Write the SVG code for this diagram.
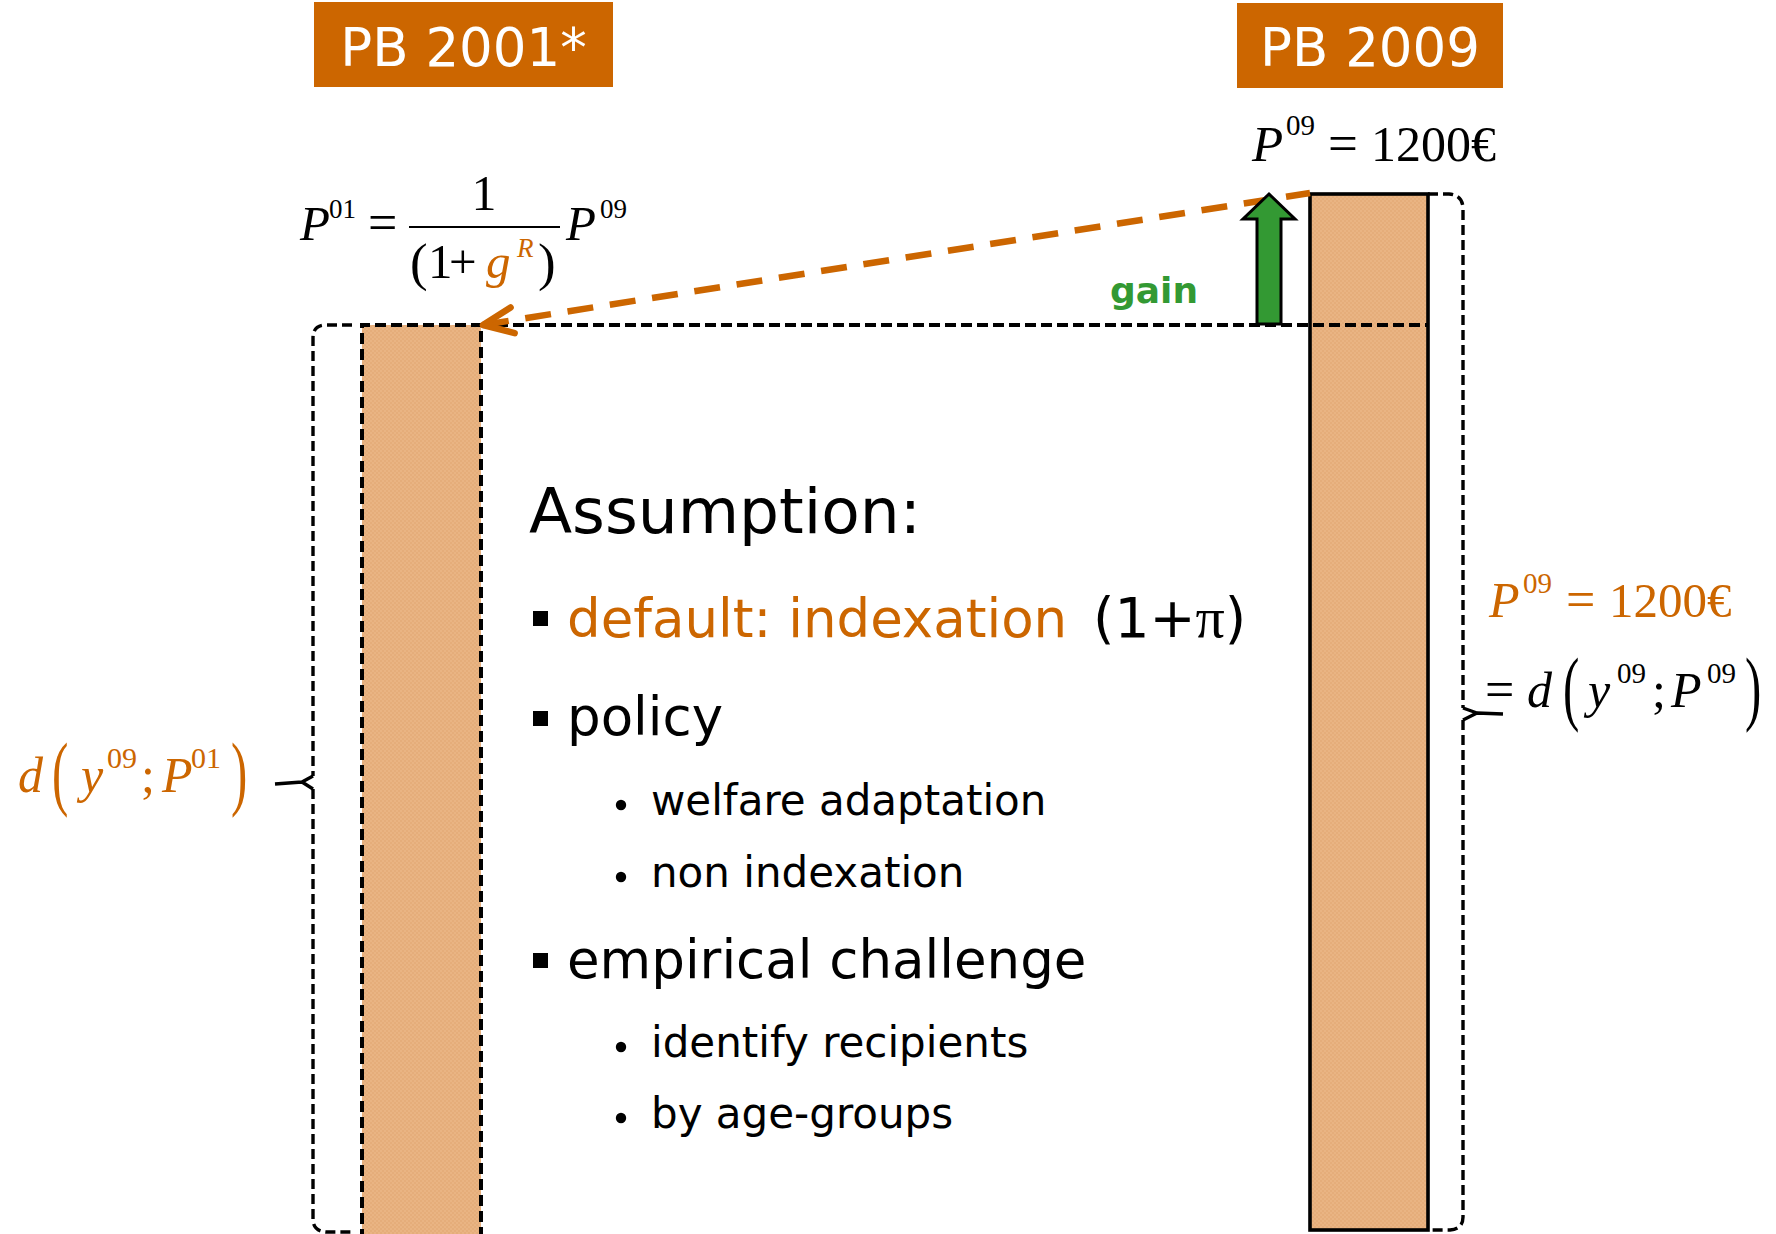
<svg xmlns="http://www.w3.org/2000/svg" width="1776" height="1234" viewBox="0 0 1776 1234">
  <defs>
    <!-- fine checker texture for the benefit bars -->
    <pattern id="tan" width="4" height="4" patternUnits="userSpaceOnUse">
      <rect width="4" height="4" fill="#E9B483"/>
      <rect width="2" height="2" fill="#E5AD7A"/>
      <rect x="2" y="2" width="2" height="2" fill="#E5AD7A"/>
    </pattern>
    <marker id="chevron" markerUnits="userSpaceOnUse" markerWidth="60" markerHeight="60" viewBox="-40 -30 60 60" refX="0" refY="0" orient="auto-start-reverse" overflow="visible">
      <path d="M-30,-13 L0,0 L-30,13" fill="none" stroke="#CC6600" stroke-width="6.5" stroke-linecap="round" stroke-linejoin="round" stroke-dasharray="none"/>
    </marker>
    <style>
      .sans { font-family: "DejaVu Sans", Verdana, sans-serif; }
      .m { font-family: "Liberation Serif", "Times New Roman", serif; }
      .i { font-style: italic; }
      .org { fill: #CC6600; }
      .dash { fill: none; stroke: #000; stroke-width: 4; stroke-dasharray: 11 5; }
      .brace { fill: none; stroke: #000; stroke-width: 3.4; stroke-dasharray: 10 5; }
      .tip { fill: none; stroke: #000; stroke-width: 3.4; stroke-linejoin: round; }
      .sq { fill: #000; }
    </style>
  </defs>

  <rect width="1776" height="1234" fill="#fff"/>

  <!-- year headers -->
  <g id="pb2001">
    <rect x="314" y="2" width="299" height="85" fill="#CC6600"/>
    <text class="sans" x="463.5" y="66" font-size="53" fill="#fff" text-anchor="middle">PB 2001*</text>
  </g>
  <g id="pb2009">
    <rect x="1237" y="3" width="266" height="85" fill="#CC6600"/>
    <text class="sans" x="1370" y="66" font-size="53" fill="#fff" text-anchor="middle">PB 2009</text>
  </g>

  <!-- 2001 bar (deflated threshold) -->
  <g id="bar2001">
    <rect x="362" y="325" width="119" height="920" fill="url(#tan)"/>
    <path class="dash" d="M362,1240 L362,325 L481,325 L481,1240"/>
  </g>

  <!-- 2009 bar -->
  <g id="bar2009">
    <rect x="1310" y="194" width="118" height="1036" fill="url(#tan)" stroke="#000" stroke-width="3.6"/>
  </g>

  <!-- braces -->
  <g id="brace-left">
    <path class="brace" d="M352,325 L326,325 Q313,325 313,338 L313,776"/>
    <path class="brace" d="M313,789 L313,1219 Q313,1231 326,1232 L354,1232"/>
    <path class="tip" d="M313,776 L302,782 L313,789 M302,782 L275,784"/>
  </g>
  <g id="brace-right">
    <path class="brace" d="M1428,194 L1449,194 Q1463,195 1463,209 L1463,708"/>
    <path class="brace" d="M1463,720 L1463,1217 Q1463,1229 1450,1230 L1430,1230"/>
    <path class="tip" d="M1463,708 L1477,713 L1463,720 M1477,713 L1503,714"/>
  </g>

  <!-- connectors -->
  <g id="connectors">
    <path class="dash" d="M481,325 L1428,325"/>
    <path d="M483,325 L1310,193" fill="none" stroke="#CC6600" stroke-width="6.5" stroke-dasharray="26 16.8" marker-start="url(#chevron)"/>
    <polygon id="gain-arrow" points="1269,194 1295,219 1281,219 1281,324 1257,324 1257,219 1243,219" fill="#339933" stroke="#000" stroke-width="3" stroke-linejoin="miter"/>
  </g>

  <g id="gain-label">
    <text class="sans" x="1110" y="303" font-size="36" font-weight="bold" fill="#339933">gain</text>
  </g>

  <!-- P01 = 1/(1+g^R) P09 -->
  <g id="formula-p01">
    <text class="m i" x="300" y="240" font-size="49">P</text>
    <text class="m" x="329" y="218" font-size="27">01</text>
    <text class="m" x="368" y="240" font-size="52">=</text>
    <line x1="409" y1="227" x2="560" y2="227" stroke="#000" stroke-width="2.2"/>
    <text class="m" x="484" y="210" font-size="50" text-anchor="middle">1</text>
    <text class="m" x="410" y="280" font-size="53">(</text>
    <text class="m" x="428" y="278" font-size="49">1</text>
    <text class="m" x="449" y="278" font-size="49">+</text>
    <text class="m i org" x="486" y="278" font-size="49">g</text>
    <text class="m i org" x="517" y="257" font-size="27">R</text>
    <text class="m" x="538" y="280" font-size="53">)</text>
    <text class="m i" x="566" y="240" font-size="49">P</text>
    <text class="m" x="600" y="218" font-size="27">09</text>
  </g>

  <!-- P09 = 1200 (top) -->
  <g id="formula-p09-top">
    <text class="m i" x="1252" y="161" font-size="51">P</text>
    <text class="m" x="1286" y="135" font-size="29">09</text>
    <text class="m" x="1328" y="161" font-size="53">=</text>
    <text class="m" x="1371" y="161" font-size="50">1200€</text>
  </g>

  <!-- right-hand label -->
  <g id="formula-right">
    <text class="m i org" x="1489" y="617" font-size="50">P</text>
    <text class="m org" x="1523" y="593" font-size="29">09</text>
    <text class="m org" x="1566" y="617" font-size="52">=</text>
    <text class="m org" x="1609" y="617" font-size="49">1200€</text>

    <text class="m" x="1485" y="707" font-size="52">=</text>
    <text class="m i" x="1527" y="707" font-size="50">d</text>
    <text class="m" font-size="49" transform="translate(1563,715) scale(1,1.7)">(</text>
    <text class="m i" x="1588" y="707" font-size="50">y</text>
    <text class="m" x="1617" y="683" font-size="29">09</text>
    <text class="m" x="1652" y="707" font-size="50">;</text>
    <text class="m i" x="1671" y="707" font-size="50">P</text>
    <text class="m" x="1707" y="683" font-size="29">09</text>
    <text class="m" font-size="49" transform="translate(1745,715) scale(1,1.7)">)</text>
  </g>

  <!-- left-hand label -->
  <g id="formula-left" class="org">
    <text class="m i" x="18" y="792" font-size="50">d</text>
    <text class="m" font-size="49" transform="translate(52,800) scale(1,1.7)">(</text>
    <text class="m i" x="81" y="792" font-size="50">y</text>
    <text class="m" x="107" y="768" font-size="30">09</text>
    <text class="m" x="141" y="792" font-size="50">;</text>
    <text class="m i" x="162" y="792" font-size="50">P</text>
    <text class="m" x="191" y="768" font-size="30">01</text>
    <text class="m" font-size="49" transform="translate(231,800) scale(1,1.7)">)</text>
  </g>

  <!-- assumption list -->
  <g id="assumptions" class="sans">
    <text x="529" y="533" font-size="63">Assumption:</text>

    <rect class="sq" x="533" y="611" width="15" height="15"/>
    <text x="567" y="637" font-size="53" fill="#CC6600">default: indexation</text>
    <text x="1093" y="637" font-size="55">(1+<tspan class="m" font-size="58">π</tspan>)</text>

    <rect class="sq" x="533" y="711" width="15" height="15"/>
    <text x="567" y="735" font-size="53">policy</text>

    <circle cx="621" cy="805" r="5.2"/>
    <text x="651" y="815" font-size="42">welfare adaptation</text>
    <circle cx="621" cy="877" r="5.2"/>
    <text x="651" y="887" font-size="42">non indexation</text>

    <rect class="sq" x="533" y="953" width="15" height="15"/>
    <text x="567" y="978" font-size="53">empirical challenge</text>

    <circle cx="621" cy="1047" r="5.2"/>
    <text x="651" y="1057" font-size="42">identify recipients</text>
    <circle cx="621" cy="1118" r="5.2"/>
    <text x="651" y="1128" font-size="42">by age-groups</text>
  </g>
</svg>
